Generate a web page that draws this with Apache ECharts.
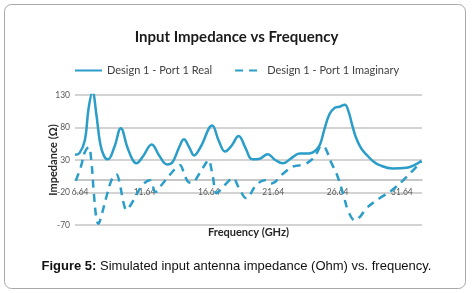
<!DOCTYPE html>
<html>
<head>
<meta charset="utf-8">
<script src="https://cdn.jsdelivr.net/npm/echarts@6/dist/echarts.min.js"></script>
<style>
  html, body { margin: 0; padding: 0; background: #fff; }
  #main { width: 473px; height: 293px; }
</style>
</head>
<body>
<div id="main"></div>
<script>
// frequency (GHz) and impedance (Ohm)
var realFreq = [6.24, 6.6, 7.0, 7.3, 7.6, 7.9, 8.2, 8.5, 8.8, 9.3, 9.8, 10.3, 10.7, 11.0, 11.5, 12.2, 12.8, 13.4, 13.8, 14.3, 14.7, 15.1, 15.5, 16.0, 16.9, 17.4, 17.9, 18.4, 18.95, 19.5, 20.0, 20.6, 21.2, 21.8, 22.4, 23.0, 23.7, 24.4, 25.0, 25.3, 25.6, 26.0, 26.4, 26.8, 27.2, 27.5, 27.8, 28.1, 28.5, 28.9, 29.4, 29.9, 30.9, 32.0, 32.6, 33.16];
var realValues = [38, 41, 60, 110, 135, 100, 55, 36, 31, 50, 79, 50, 31, 25, 35, 54, 36, 23, 26, 48, 62, 50, 37, 50, 83, 60, 43, 52, 67, 48, 31, 32, 39, 30, 25, 32, 40, 40, 46, 55, 76, 100, 110, 112, 115, 104, 82, 63, 47, 38, 28, 22, 17, 18, 22, 29];

var imagFreq = [6.3, 6.7, 7.0, 7.3, 7.5, 7.7, 7.9, 8.05, 8.3, 8.7, 9.1, 9.45, 9.75, 10.0, 10.25, 10.6, 11.0, 11.5, 12.05, 12.5, 12.9, 13.6, 14.1, 14.4, 14.7, 15.0, 15.3, 15.9, 16.4, 16.6, 16.9, 17.25, 17.6, 18.0, 18.5, 19.0, 19.55, 20.3, 21.0, 21.5, 22.4, 23.2, 24.0, 24.6, 25.0, 25.4, 25.7, 26.1, 26.6, 27.1, 27.5, 28.0, 28.4, 28.9, 29.9, 30.9, 32.0, 33.16];
var imagValues = [-2, 20, 42, 50, 30, -20, -60, -68, -55, -25, 0, 8, -10, -35, -47, -38, -24, -8, -1, -19, -10, 7, 18, 22, 10, -3, -5, 9, 25, 30, 10, -21, -15, -6, 2, -14, -29, -9, -1, -6, 9, 20, 23, 30, 40, 52, 48, 28, 7, -24, -50, -63, -57, -44, -29, -16, 4, 28];

var xTickLabels = [6.64, 11.64, 16.64, 21.64, 26.64, 31.64];
var yTickLabels = [-70, -20, 30, 80, 130];

function pairs(xs, ys) {
  return xs.map(function (x, i) { return [x, ys[i]]; });
}

var lineColor = '#2a9dc8';
var chart = echarts.init(document.getElementById('main'));

var option = {
  backgroundColor: '#fff',
  animation: false,
  graphic: [{
    type: 'rect',
    shape: { x: 4.5, y: 4.5, width: 461, height: 284, r: 7 },
    style: { fill: 'none', stroke: '#a8a8a8', lineWidth: 1 }
  }],
  title: [{
    text: 'Input Impedance vs Frequency',
    left: 'center',
    top: 25,
    textStyle: { fontFamily: 'Lato', fontSize: 15, fontWeight: 'bold', color: '#1a1a1a' }
  }, {
    text: '{b|Figure 5:} Simulated input antenna impedance (Ohm) vs. frequency.',
    left: 'center',
    top: 255,
    textStyle: {
      fontFamily: 'Liberation Sans', fontSize: 13, fontWeight: 'normal', color: '#111',
      rich: { b: { fontFamily: 'Liberation Sans', fontSize: 13, fontWeight: 'bold', color: '#111' } }
    }
  }],
  legend: {
    top: 60,
    left: 'center',
    itemWidth: 27,
    itemHeight: 10,
    itemGap: 22,
    itemStyle: { opacity: 0 },
    textStyle: { fontFamily: 'Lato', fontSize: 11, color: '#404040' },
    data: ['Design 1 - Port 1 Real', 'Design 1 - Port 1 Imaginary']
  },
  grid: { left: 75, right: 51, top: 95, bottom: 68 },
  xAxis: {
    type: 'value',
    min: 6.24,
    max: 33.2,
    name: 'Frequency (GHz)',
    nameLocation: 'middle',
    nameGap: 2,
    nameMoveOverlap: false,
    nameTextStyle: { fontFamily: 'Lato', fontSize: 11, fontWeight: 'bold', color: '#262626' },
    axisLine: { onZero: true, lineStyle: { color: '#b5b5b5', width: 1.5 } },
    axisTick: { show: false, customValues: xTickLabels },
    axisLabel: {
      customValues: xTickLabels,
      margin: -37,
      fontFamily: 'Lato', fontSize: 8.5, color: '#595959',
      formatter: function (v) { return v.toFixed(2); }
    },
    splitLine: { show: false }
  },
  yAxis: {
    type: 'value',
    min: -70,
    max: 130,
    name: 'Impedance (Ω)',
    nameLocation: 'middle',
    nameGap: 16,
    nameMoveOverlap: false,
    nameTextStyle: { fontFamily: 'Lato', fontSize: 11, fontWeight: 'bold', color: '#262626' },
    axisLine: { show: false },
    axisTick: { show: false, customValues: yTickLabels },
    axisLabel: { customValues: yTickLabels, margin: 5, fontFamily: 'Lato', fontSize: 8.5, color: '#595959' },
    splitLine: { show: true, lineStyle: { color: '#c4c4c4', width: 1.5 } }
  },
  series: [{
    name: 'Design 1 - Port 1 Real',
    type: 'line',
    smooth: 0.4,
    symbol: 'none',
    lineStyle: { color: lineColor, width: 2.5 },
    itemStyle: { color: lineColor },
    data: pairs(realFreq, realValues)
  }, {
    name: 'Design 1 - Port 1 Imaginary',
    type: 'line',
    smooth: 0.4,
    symbol: 'none',
    lineStyle: { color: lineColor, width: 2.5, type: [8, 6] },
    itemStyle: { color: lineColor },
    data: pairs(imagFreq, imagValues)
  }]
};

chart.setOption(option);
</script>
</body>
</html>
